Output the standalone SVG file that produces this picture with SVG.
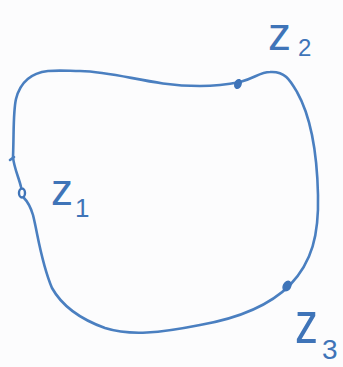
<svg xmlns="http://www.w3.org/2000/svg" width="343" height="367" viewBox="0 0 343 367">
<style>
.curve{fill:none;stroke:#4a7fc0;stroke-width:2.6;stroke-linecap:round;stroke-linejoin:round}
.dot{fill:#3f74b8;stroke:#3f74b8;stroke-width:1.5}
.ring{fill:none;stroke:#3f74b8;stroke-width:2.4}
.lbl{font-family:"Liberation Sans",Arial,sans-serif;fill:#3f74b8}
</style>
<rect width="343" height="367" fill="#fcfcfd"/>
<g id="curve">
<path class="curve" d="M 21,187 C 19,178 14,168 13,157 C 14,132 13,112 16,99 C 20,83 30,73 48,71 C 60,70 70,71 80,71 C 120,72 150,86 200,86 C 220,86 230,84 240,82 C 255,78 260,72 270,72 C 285,71 290,80 297,92 C 310,115 317,150 318,195 C 319,235 312,262 290,285 C 270,305 240,318 200,325 C 160,333 130,336 105,328 C 80,319 62,306 52,288 C 41,262 38,235 33,215 C 30,205 26,200 24,198"/>
<path class="curve" d="M 10,160 L 14,157"/>
</g>
<g id="z1">
<ellipse class="ring" cx="22" cy="193" rx="3" ry="4.5"/>
<text class="lbl" x="51" y="205" font-size="44">z</text>
<text class="lbl" x="75" y="217" font-size="26">1</text>
</g>
<g id="z2">
<ellipse class="dot" cx="238" cy="84" rx="3" ry="4.5" transform="rotate(20 238 84)"/>
<text class="lbl" x="268" y="50" font-size="46">z</text>
<text class="lbl" x="298" y="56" font-size="24">2</text>
</g>
<g id="z3">
<ellipse class="dot" cx="287" cy="286" rx="3.5" ry="5" transform="rotate(30 287 286)"/>
<text class="lbl" x="295" y="343" font-size="46" transform="translate(295 343) scale(1 1.3) translate(-295 -343)">z</text>
<text class="lbl" x="322" y="359" font-size="28">3</text>
</g>
</svg>
